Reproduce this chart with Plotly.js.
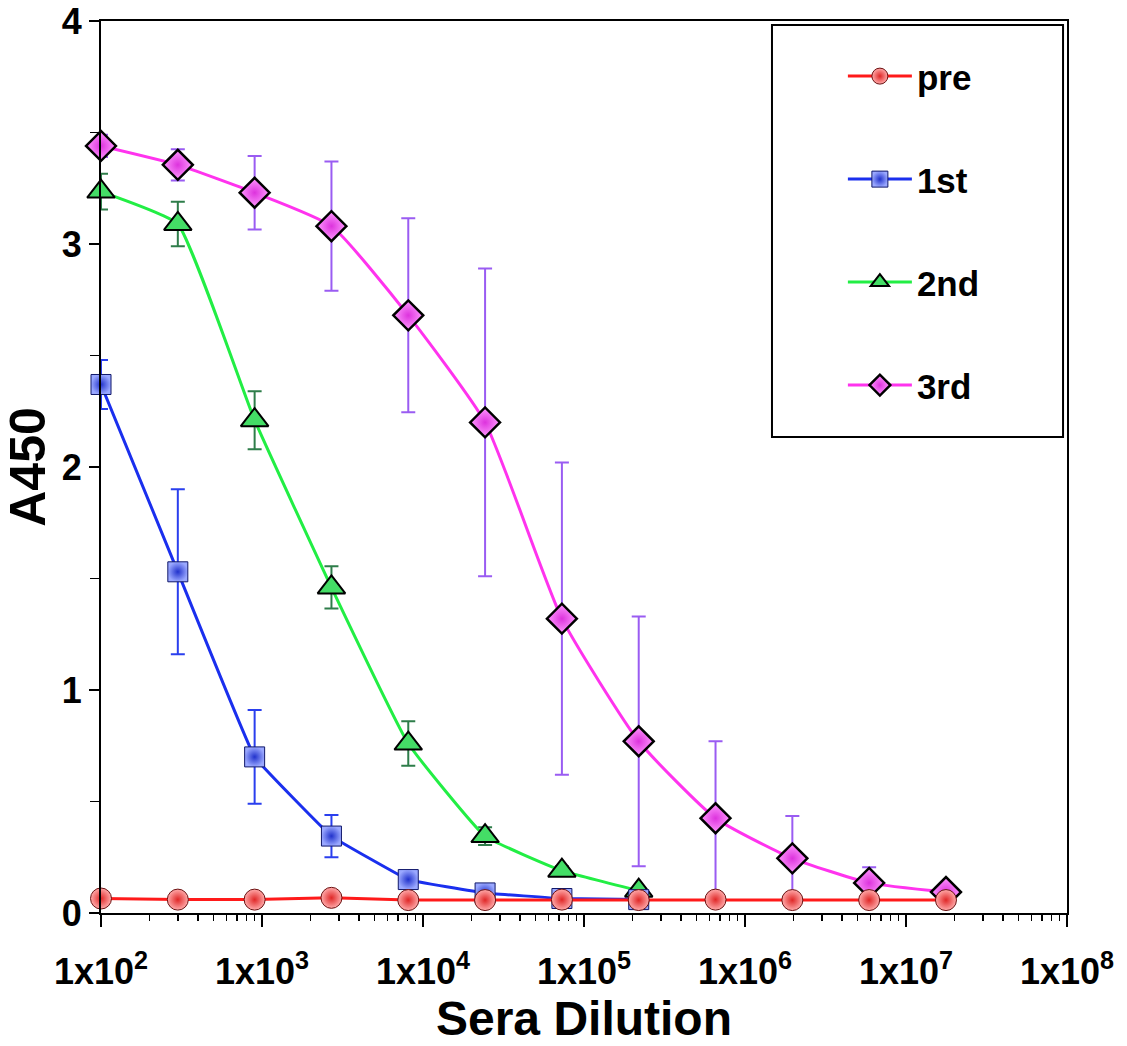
<!DOCTYPE html>
<html>
<head>
<meta charset="utf-8">
<script src="https://cdn.plot.ly/plotly-3.0.1.min.js"></script>
<style>html,body{margin:0;padding:0;background:#fff;}#chart{width:1127px;height:1046px;}</style>
</head>
<body>
<div id="chart"></div>
<script>
// Sera dilutions (3-fold series)
const dilution = [100, 300, 900, 2700, 8100, 24300, 72900, 218700, 656100, 1968300, 5904900, 17714700];

// A450 means
const preVals   = [0.065, 0.060, 0.060, 0.068, 0.058, 0.058, 0.060, 0.058, 0.060, 0.058, 0.058, 0.058];
const firstVals = [2.37, 1.53, 0.70, 0.345, 0.15, 0.09, 0.065, 0.06];
const secondVals= [3.235, 3.09, 2.21, 1.46, 0.76, 0.345, 0.19, 0.10];
const thirdVals = [3.44, 3.355, 3.23, 3.08, 2.68, 2.20, 1.32, 0.77, 0.425, 0.245, 0.135, 0.094];

// error bars (SD)
const preErr    = [0, 0, 0, 0, 0, 0, 0, 0, 0, 0, 0, 0];
const firstErr  = [0.11, 0.37, 0.21, 0.095, 0.02, 0.01, 0.01, 0.01];
const secondErr = [0.08, 0.10, 0.13, 0.095, 0.10, 0.04, 0.02, 0.01];
const thirdErr  = [0.05, 0.07, 0.165, 0.29, 0.435, 0.69, 0.70, 0.56, 0.345, 0.19, 0.07, 0.01];

const seriesNames = ["pre", "1st", "2nd", "3rd"];
const xTickVals = [1e2, 1e3, 1e4, 1e5, 1e6, 1e7, 1e8];
const xTickText = ["1x10<sup>2</sup>", "1x10<sup>3</sup>", "1x10<sup>4</sup>", "1x10<sup>5</sup>", "1x10<sup>6</sup>", "1x10<sup>7</sup>", "1x10<sup>8</sup>"];
const yTickVals = [0, 1, 2, 3, 4];

const FONT = "Liberation Sans, Arial, sans-serif";

function trace(name, xs, ys, err, lineColor, errColor, marker, order, shape, smoothing) {
  const line = {color: lineColor, width: 3, shape: shape};
  if (shape === "spline") line.smoothing = smoothing;
  return {
    type: "scatter", mode: "lines+markers", name: name,
    x: xs, y: ys, cliponaxis: false,
    legendgroup: name, legendrank: order,
    line: line,
    error_y: {type: "data", array: err, visible: true, color: errColor, thickness: 2, width: 7},
    marker: marker
  };
}

const data = [
  trace(seriesNames[3], dilution.slice(0, thirdVals.length), thirdVals, thirdErr, "#ff33ee", "#9a5cf2",
    {symbol: "diamond", size: 23, color: "#ff99ff", gradient: {type: "radial", color: "#dd33dd"}, line: {color: "#000", width: 2.5}}, 4, "spline", 0.5),
  trace(seriesNames[2], dilution.slice(0, secondVals.length), secondVals, secondErr, "#22ee44", "#2e7d4a",
    {symbol: "triangle-up", size: 24, color: "#44dd66", line: {color: "#000", width: 2}}, 3, "spline", 0.35),
  trace(seriesNames[1], dilution.slice(0, firstVals.length), firstVals, firstErr, "#1a2fee", "#2a3fee",
    {symbol: "square", size: 20, color: "#9aa8ff", gradient: {type: "radial", color: "#2233cc"}, line: {color: "#10186a", width: 1}}, 2, "spline", 0.2),
  trace(seriesNames[0], dilution.slice(0, preVals.length), preVals, preErr, "#ff1a1a", "#ff1a1a",
    {symbol: "circle", size: 21, color: "#ffaaaa", gradient: {type: "radial", color: "#e02828"}, line: {color: "#6a1010", width: 1}}, 1, "linear", 0)
];

const layout = {
  width: 1127, height: 1046,
  margin: {l: 101, r: 60, t: 21, b: 133},
  paper_bgcolor: "#fff", plot_bgcolor: "#fff",
  font: {family: FONT, color: "#000"},
  showlegend: true,
  legend: {
    x: 0.768, y: 0.971, xanchor: "left", yanchor: "top",
    bgcolor: "rgba(0,0,0,0)", borderwidth: 0,
    font: {family: FONT, size: 35, color: "#000", weight: "bold"},
    tracegroupgap: 54.5, traceorder: "grouped", itemsizing: "trace", itemwidth: 64
  },
  shapes: [{
    type: "rect", xref: "paper", yref: "paper",
    x0: 0.6946, x1: 0.9959, y0: 0.5336, y1: 0.9955,
    line: {color: "#000", width: 2}, fillcolor: "rgba(0,0,0,0)", layer: "below"
  }],
  xaxis: {
    type: "log", range: [2, 8],
    tickmode: "array", tickvals: xTickVals, ticktext: xTickText,
    ticks: "outside", ticklen: 12, tickwidth: 2, tickcolor: "#000",
    minor: {ticks: "outside", ticklen: 6, tickwidth: 1.5, tickcolor: "#000", dtick: "D1"},
    showline: true, linecolor: "#000", linewidth: 2, mirror: true,
    showgrid: false, zeroline: false,
    ticklabelstandoff: 14,
    tickfont: {family: FONT, size: 36, color: "#000", weight: "bold"},
    title: {text: "Sera Dilution", font: {family: FONT, size: 48, color: "#000", weight: "bold"}, standoff: 8}
  },
  yaxis: {
    range: [0, 4],
    tickmode: "array", tickvals: yTickVals,
    ticks: "outside", ticklen: 10, tickwidth: 2, tickcolor: "#000",
    minor: {ticks: "outside", ticklen: 9, tickwidth: 1.5, tickcolor: "#000", dtick: 0.5},
    showline: true, linecolor: "#000", linewidth: 2, mirror: true,
    showgrid: false, zeroline: false,
    tickfont: {family: FONT, size: 36, color: "#000", weight: "bold"},
    title: {text: "A450", font: {family: FONT, size: 50, color: "#000", weight: "bold"}, standoff: 2}
  }
};

Plotly.newPlot("chart", data, layout, {displayModeBar: false, staticPlot: true});
</script>
</body>
</html>
